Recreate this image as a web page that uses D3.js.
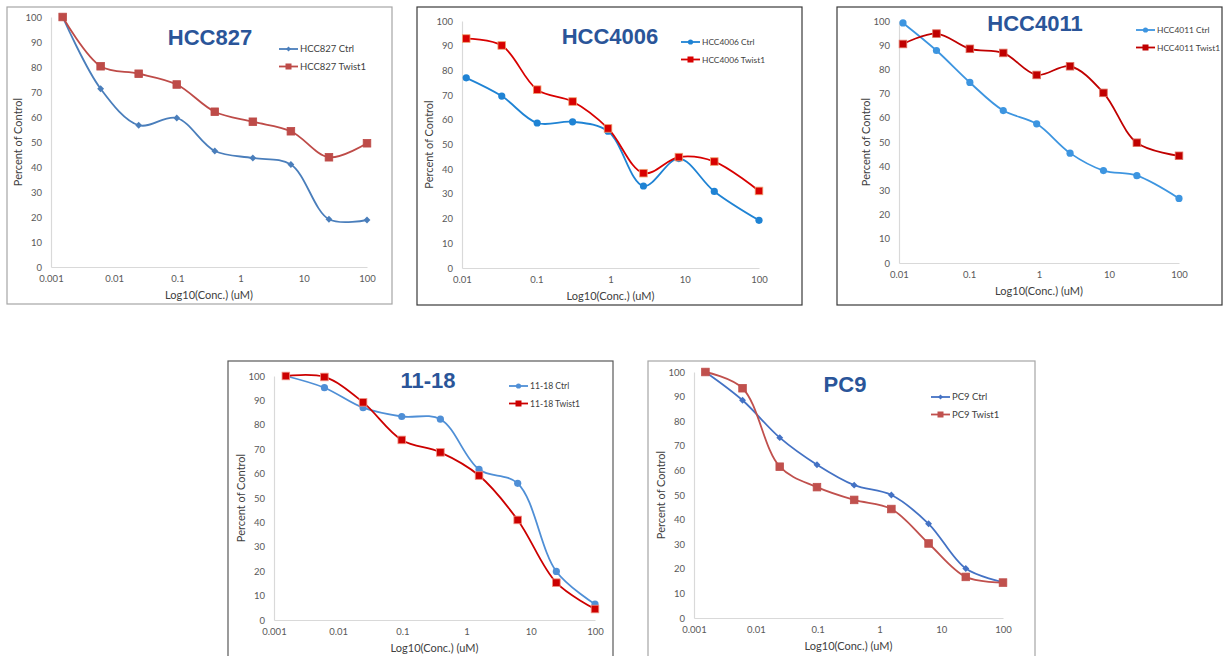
<!DOCTYPE html>
<html>
<head>
<meta charset="utf-8">
<script src="https://cdn.jsdelivr.net/npm/d3@7"></script>
<style>
  body { margin: 0; background: #fff; }
  .tick text { font-family: Lato, "Open Sans", sans-serif; font-size: 9.5px; fill: #595959; }
  .axis-title { font-family: Lato, "Open Sans", sans-serif; font-size: 11px; fill: #404040; }
  .legend text { font-family: Lato, "Open Sans", sans-serif; fill: #404040; }
  .chart-title { font-family: "Liberation Sans", Arial, sans-serif; font-weight: bold; font-size: 22px; fill: #2a5599; }
</style>
</head>
<body>
<svg id="fig" width="1224" height="656"></svg>
<script>
// Concentraciones (uM), diluciones 1:4 y 1:3
const concFour = [0.00153, 0.0061, 0.0244, 0.0977, 0.3906, 1.5625, 6.25, 25, 100];
const concThree = [0.0114, 0.0343, 0.1029, 0.3086, 0.9259, 2.778, 8.333, 25, 100];

// Etiquetas de ticks
const yTicks = [0, 10, 20, 30, 40, 50, 60, 70, 80, 90, 100];
const xTicksFrom001 = [0.001, 0.01, 0.1, 1, 10, 100];
const xTicksFrom01 = [0.01, 0.1, 1, 10, 100];

// Valores (% del control)
const hcc827Ctrl   = [100, 71.3, 56.7, 59.6, 46.4, 43.6, 41.0, 19.1, 18.8];
const hcc827Twist  = [100, 80.3, 77.3, 73.0, 62.1, 58.1, 54.3, 43.9, 49.5];
const hcc4006Ctrl  = [77.0, 69.6, 58.7, 59.2, 55.4, 33.2, 44.3, 31.0, 19.3];
const hcc4006Twist = [92.9, 90.1, 72.2, 67.4, 56.5, 38.4, 44.9, 43.1, 31.2];
const hcc4011Ctrl  = [99.2, 87.8, 74.6, 63.0, 57.5, 45.4, 38.2, 36.1, 26.7];
const hcc4011Twist = [90.5, 94.8, 88.5, 86.8, 77.7, 81.3, 70.3, 49.7, 44.3];
const c1118Ctrl    = [100, 95.2, 87.0, 83.4, 82.3, 61.7, 56.0, 19.9, 6.5];
const c1118Twist   = [100, 99.6, 89.2, 73.8, 68.7, 59.2, 41.0, 15.3, 4.5];
const pc9Ctrl      = [100, 88.5, 73.3, 62.3, 54.0, 50.0, 38.3, 20.1, 14.6];
const pc9Twist     = [100, 93.4, 61.5, 53.2, 48.0, 44.3, 30.3, 16.7, 14.4];

// Configuración de cada panel (posición y estilo)
const panels = [
  { name: "HCC827", conc: concFour, ctrl: hcc827Ctrl, twist: hcc827Twist, xTicks: xTicksFrom001,
    frame: [7, 7, 385, 297], frameColor: "#a6a6a6",
    plot: { x0: 51, x1: 367, y0: 267, y1: 17 }, title: [210, 45], legend: [279, 49], legendSize: 9.5,
    ctrlColor: "#4a7ebb", ctrlMarker: "diamond", twistColor: "#be4b48", twistStroke: "#be4b48" },
  { name: "HCC4006", conc: concThree, ctrl: hcc4006Ctrl, twist: hcc4006Twist, xTicks: xTicksFrom01,
    frame: [417, 7, 385, 298], frameColor: "#3a3a3a",
    plot: { x0: 462, x1: 759, y0: 268, y1: 21 }, title: [610, 44], legend: [681, 42], legendSize: 8.4,
    ctrlColor: "#1f83d4", ctrlMarker: "circle", twistColor: "#d80000", twistStroke: "#f0a070" },
  { name: "HCC4011", conc: concThree, ctrl: hcc4011Ctrl, twist: hcc4011Twist, xTicks: xTicksFrom01,
    frame: [837, 7, 385, 298], frameColor: "#3a3a3a",
    plot: { x0: 899, x1: 1179, y0: 263, y1: 21 }, title: [1035, 31], legend: [1136, 30], legendSize: 8.4,
    ctrlColor: "#3d95e0", ctrlMarker: "circle", twistColor: "#c00000", twistStroke: "#e07060" },
  { name: "11-18", conc: concFour, ctrl: c1118Ctrl, twist: c1118Twist, xTicks: xTicksFrom001,
    frame: [228, 361, 385, 320], frameColor: "#595959",
    plot: { x0: 274, x1: 595, y0: 620, y1: 376 }, title: [428, 388], legend: [509, 386], legendSize: 8.6,
    ctrlColor: "#4f8fd6", ctrlMarker: "circle", twistColor: "#cc0000", twistStroke: "#f09080" },
  { name: "PC9", conc: concFour, ctrl: pc9Ctrl, twist: pc9Twist, xTicks: xTicksFrom001,
    frame: [648, 361, 387, 320], frameColor: "#a6a6a6",
    plot: { x0: 694, x1: 1003, y0: 618, y1: 372 }, title: [845, 392], legend: [931, 397], legendSize: 9.5,
    ctrlColor: "#4472c4", ctrlMarker: "diamond", twistColor: "#c0504d", twistStroke: "#c0504d" }
];

const svg = d3.select("#fig");

function drawMarker(g, type, cx, cy, color, stroke) {
  if (type === "diamond") {
    g.append("path")
      .attr("d", d3.symbol().type(d3.symbolDiamond2).size(30)())
      .attr("transform", `translate(${cx},${cy})`)
      .attr("fill", color);
  } else if (type === "circle") {
    g.append("circle").attr("cx", cx).attr("cy", cy).attr("r", 3.6).attr("fill", color);
  } else {
    g.append("rect").attr("x", cx - 3.8).attr("y", cy - 3.8)
      .attr("width", 7.6).attr("height", 7.6)
      .attr("fill", color).attr("stroke", stroke).attr("stroke-width", 0.8);
  }
}

function renderPanel(p) {
  const g = svg.append("g");

  // Marco
  g.append("rect")
    .attr("x", p.frame[0]).attr("y", p.frame[1])
    .attr("width", p.frame[2]).attr("height", p.frame[3])
    .attr("fill", "#fff").attr("stroke", p.frameColor).attr("stroke-width", 1.2);

  // Escalas
  const x = d3.scaleLog().domain([p.xTicks[0], 100]).range([p.plot.x0, p.plot.x1]);
  const y = d3.scaleLinear().domain([0, 100]).range([p.plot.y0, p.plot.y1]);

  // Ejes
  const xAxis = g.append("g")
    .attr("transform", `translate(0,${p.plot.y0})`)
    .call(d3.axisBottom(x).tickValues(p.xTicks).tickSize(0).tickPadding(8).tickFormat(d => String(d)));
  const yAxis = g.append("g")
    .attr("transform", `translate(${p.plot.x0},0)`)
    .call(d3.axisLeft(y).tickValues(yTicks).tickSize(0).tickPadding(9));
  [xAxis, yAxis].forEach(a => a.select(".domain").attr("stroke", "#d9d9d9").attr("stroke-width", 1.2));

  // Títulos de ejes
  g.append("text")
    .attr("class", "axis-title")
    .attr("x", (p.plot.x0 + p.plot.x1) / 2)
    .attr("y", p.plot.y0 + 32)
    .attr("text-anchor", "middle")
    .text("Log10(Conc.) (uM)");
  g.append("text")
    .attr("class", "axis-title")
    .attr("transform", `translate(${p.plot.x0 - 29},${(p.plot.y0 + p.plot.y1) / 2}) rotate(-90)`)
    .attr("text-anchor", "middle")
    .text("Percent of Control");

  // Título
  g.append("text")
    .attr("class", "chart-title")
    .attr("x", p.title[0]).attr("y", p.title[1])
    .attr("text-anchor", "middle")
    .text(p.name);

  // Líneas suavizadas
  const line = d3.line()
    .x(d => x(d[0]))
    .y(d => y(d[1]))
    .curve(d3.curveCatmullRom.alpha(0.5));

  const series = [
    { label: p.name + " Ctrl", values: p.ctrl, color: p.ctrlColor, marker: p.ctrlMarker, stroke: p.ctrlColor },
    { label: p.name + " Twist1", values: p.twist, color: p.twistColor, marker: "square", stroke: p.twistStroke }
  ];

  series.forEach(s => {
    const pts = p.conc.map((c, i) => [c, s.values[i]]);
    g.append("path")
      .datum(pts)
      .attr("d", line)
      .attr("fill", "none")
      .attr("stroke", s.color)
      .attr("stroke-width", 1.8);
    pts.forEach(d => drawMarker(g, s.marker, x(d[0]), y(d[1]), s.color, s.stroke));
  });

  // Leyenda
  const lg = g.append("g").attr("class", "legend");
  series.forEach((s, i) => {
    const ly = p.legend[1] + i * 17.5;
    lg.append("line")
      .attr("x1", p.legend[0]).attr("x2", p.legend[0] + 19)
      .attr("y1", ly).attr("y2", ly)
      .attr("stroke", s.color).attr("stroke-width", 1.8);
    const m = lg.append("g");
    if (s.marker === "square") {
      m.append("rect").attr("x", p.legend[0] + 9.5 - 3).attr("y", ly - 3)
        .attr("width", 6).attr("height", 6).attr("fill", s.color);
    } else if (s.marker === "circle") {
      m.append("circle").attr("cx", p.legend[0] + 9.5).attr("cy", ly).attr("r", 2.6).attr("fill", s.color);
    } else {
      m.append("path")
        .attr("d", d3.symbol().type(d3.symbolDiamond2).size(16)())
        .attr("transform", `translate(${p.legend[0] + 9.5},${ly})`)
        .attr("fill", s.color);
    }
    lg.append("text")
      .attr("x", p.legend[0] + 21)
      .attr("y", ly + 3.2)
      .style("font-size", p.legendSize + "px")
      .text(s.label);
  });
}

panels.forEach(renderPanel);
</script>
</body>
</html>
